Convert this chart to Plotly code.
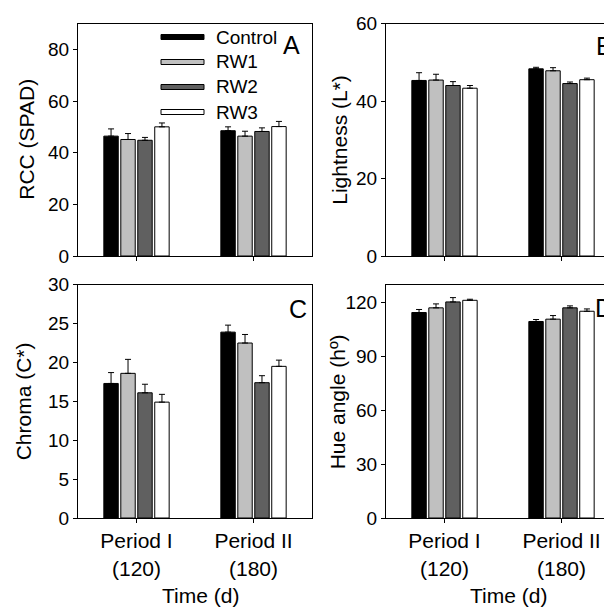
import plotly.graph_objects as go

# The page body adds an 8 px margin, so the figure is 8 px smaller and
# all reference pixel positions are shifted by 8 px.
OFF = 8
W, H = 612 - OFF, 608 - OFF

periods = ["Period I<br>(120)", "Period II<br>(180)"]
series = ["Control", "RW1", "RW2", "RW3"]
colors = ["#000000", "#c0c0c0", "#606060", "#ffffff"]

# Panel A: RCC (SPAD)
rcc_control = [46.4, 48.5]
rcc_rw1 = [45.1, 46.4]
rcc_rw2 = [44.8, 48.2]
rcc_rw3 = [50.0, 50.1]
rcc_err_control = [2.8, 1.5]
rcc_err_rw1 = [2.3, 1.9]
rcc_err_rw2 = [1.1, 1.4]
rcc_err_rw3 = [1.5, 2.0]

# Panel B: Lightness (L*)
l_control = [45.3, 48.3]
l_rw1 = [45.4, 47.8]
l_rw2 = [44.0, 44.5]
l_rw3 = [43.3, 45.5]
l_err_control = [2.0, 0.4]
l_err_rw1 = [1.5, 0.8]
l_err_rw2 = [1.0, 0.4]
l_err_rw3 = [0.7, 0.4]

# Panel C: Chroma (C*)
c_control = [17.3, 23.9]
c_rw1 = [18.6, 22.5]
c_rw2 = [16.1, 17.4]
c_rw3 = [14.9, 19.5]
c_err_control = [1.4, 0.9]
c_err_rw1 = [1.8, 1.1]
c_err_rw2 = [1.1, 0.9]
c_err_rw3 = [1.0, 0.8]

# Panel D: Hue angle (h°)
h_control = [114.5, 109.5]
h_rw1 = [117.1, 110.8]
h_rw2 = [120.4, 117.1]
h_rw3 = [121.3, 115.2]
h_err_control = [1.7, 1.1]
h_err_rw1 = [2.2, 2.0]
h_err_rw2 = [2.4, 1.1]
h_err_rw3 = [0.6, 1.3]

panels = [
    ([rcc_control, rcc_rw1, rcc_rw2, rcc_rw3],
     [rcc_err_control, rcc_err_rw1, rcc_err_rw2, rcc_err_rw3]),
    ([l_control, l_rw1, l_rw2, l_rw3],
     [l_err_control, l_err_rw1, l_err_rw2, l_err_rw3]),
    ([c_control, c_rw1, c_rw2, c_rw3],
     [c_err_control, c_err_rw1, c_err_rw2, c_err_rw3]),
    ([h_control, h_rw1, h_rw2, h_rw3],
     [h_err_control, h_err_rw1, h_err_rw2, h_err_rw3]),
]
y_titles = ["RCC (SPAD)", "Lightness (L*)", "Chroma (C*)", "Hue angle (hº)"]
y_ranges = [[0, 90], [0, 60], [0, 30], [0, 130]]
y_dticks = [20, 20, 5, 30]
letters = ["A", "B", "C", "D"]

FONT = "Liberation Sans, Arial, sans-serif"


def px(x):
    return (x - OFF) / W


def py(y):
    return 1 - (y - OFF) / H


col_px = [(78, 312), (386, 612)]
row_px = [(23.5, 256), (284.7, 518)]
x_ranges = [[-0.5, 1.5], [-0.5, -0.5 + (612 - 386) / 117.0]]

fig = go.Figure()
layout = dict(
    width=W, height=H,
    margin=dict(l=0, r=0, t=0, b=0, autoexpand=False),
    paper_bgcolor="white", plot_bgcolor="white",
    barmode="group", bargap=0.42, bargroupgap=0.15,
    showlegend=False,
    font=dict(family=FONT, color="black", size=19),
)
annotations = []
shapes = []

for i, (vals, errs) in enumerate(panels):
    r, c = divmod(i, 2)
    n = i + 1
    xa = "x" if n == 1 else f"x{n}"
    ya = "y" if n == 1 else f"y{n}"
    for s in range(4):
        fig.add_trace(go.Bar(
            x=periods, y=vals[s], name=series[s],
            marker=dict(color=colors[s], line=dict(color="black", width=1)),
            error_y=dict(type="data", array=errs[s], arrayminus=[0, 0],
                         symmetric=False, color="black", thickness=1, width=3),
            xaxis=xa, yaxis=ya, showlegend=False,
        ))
    xkey = "xaxis" if n == 1 else f"xaxis{n}"
    ykey = "yaxis" if n == 1 else f"yaxis{n}"
    layout[xkey] = dict(
        domain=[px(col_px[c][0]), min(1.0, px(col_px[c][1]))],
        anchor=ya, range=x_ranges[c], type="category",
        showline=True, linecolor="black", linewidth=1, mirror=True,
        ticks="outside", ticklen=4, tickcolor="black",
        showticklabels=(r == 1), tickfont=dict(size=21),
        showgrid=False, zeroline=False, fixedrange=True, automargin=False,
    )
    layout[ykey] = dict(
        domain=[py(row_px[r][1]), py(row_px[r][0])],
        anchor=xa, range=y_ranges[i], dtick=y_dticks[i],
        showline=True, linecolor="black", linewidth=1, mirror=(c == 0),
        ticks="outside", ticklen=4, tickcolor="black",
        tickfont=dict(size=19),
        showgrid=False, zeroline=False, fixedrange=True, automargin=False,
    )

# y-axis titles
ytitle_x = [27, 340, 23, 337]
for i in range(4):
    r, c = divmod(i, 2)
    yc = (row_px[r][0] + row_px[r][1]) / 2
    annotations.append(dict(
        text=y_titles[i], x=px(ytitle_x[i]), y=py(yc), xref="paper", yref="paper",
        textangle=-90, showarrow=False, font=dict(size=21),
        xanchor="center", yanchor="middle",
    ))

# x-axis titles
for xc in [200, 508]:
    annotations.append(dict(
        text="Time (d)", x=px(xc), y=py(595), xref="paper", yref="paper",
        showarrow=False, font=dict(size=21), xanchor="center", yanchor="middle",
    ))

# panel letters
letter_pos = [(291, 45), (604, 46), (298, 309), (604, 308)]
for i, (lx, ly) in enumerate(letter_pos):
    annotations.append(dict(
        text=letters[i], x=px(lx), y=py(ly), xref="paper", yref="paper",
        showarrow=False, font=dict(size=25), xanchor="center", yanchor="middle",
    ))

# legend (drawn manually to mimic the long flat swatches)
leg_y = [37, 62, 87, 112]
for s in range(4):
    shapes.append(dict(
        type="rect", xref="paper", yref="paper",
        x0=px(161), x1=px(204), y0=py(leg_y[s] + 2.5), y1=py(leg_y[s] - 2.5),
        fillcolor=colors[s], line=dict(color="black", width=1),
    ))
    annotations.append(dict(
        text=series[s], x=px(214), y=py(leg_y[s]), xref="paper", yref="paper",
        showarrow=False, font=dict(size=19), xanchor="left", yanchor="middle",
    ))

layout["annotations"] = annotations
layout["shapes"] = shapes
fig.update_layout(**layout)
fig.write_html("out.html")
